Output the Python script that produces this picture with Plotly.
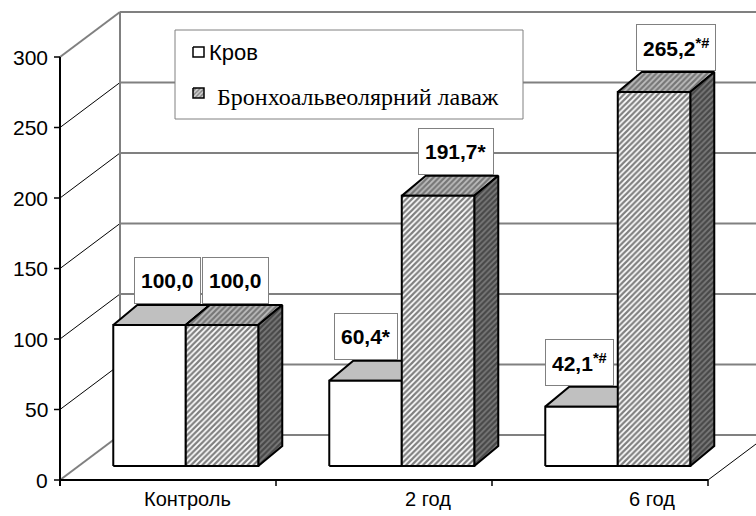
import plotly.graph_objects as go

# ---- data -------------------------------------------------------------
categories = ["Контроль", "2 год", "6 год"]
blood = [100.0, 60.4, 42.1]
lavage = [100.0, 191.7, 265.2]
blood_labels = ["100,0", "60,4*", "42,1<sup>*#</sup>"]
lavage_labels = ["100,0", "191,7*", "265,2<sup>*#</sup>"]
series_names = ["Кров", "Бронхоальвеолярний лаваж"]
value_ticks = [0, 50, 100, 150, 200, 250, 300]

# ---- geometry (pixels -> axis units) ---------------------------------
W, H = 756, 516
X0_PX, Y0_PX = 60, 480          # where the value axis meets the category axis
CAT_PX, VAL_PX = 216, 1.41      # pixels per category, pixels per value unit
N_CAT = len(categories)
VMAX = value_ticks[-1]

def ux(px):   # horizontal pixel length -> x units
    return px / CAT_PX

def uy(px):   # vertical pixel length -> value units
    return px / VAL_PX

def X(px):    # absolute pixel x -> x coordinate
    return (px - X0_PX) / CAT_PX

def Y(py):    # absolute pixel y -> y coordinate
    return (Y0_PX - py) / VAL_PX

WALL_DX, WALL_DY = ux(60), uy(45)        # depth of the chart box
BAR_F0 = 14 / 45                          # depth fraction of the bar fronts
BAR_DX, BAR_DY = ux(24), uy(20)           # bar depth
GAP, BW = ux(34.6), ux(72.5)              # gap before group, bar width
LABEL_NUDGE = [[6, -11.5, -14], [1.5, 5.5, 9.5]]  # px tweaks for value boxes

GRID = "#808080"
SANS = "Liberation Sans, Arial"
fig = go.Figure()


def line(xs, ys, color, width):
    fig.add_trace(go.Scatter(x=xs, y=ys, mode="lines",
                             line=dict(color=color, width=width),
                             hoverinfo="skip"))


def face(xs, ys, fill=None, pattern=None, lw=2, lc="black"):
    kw = dict(fillpattern=pattern) if pattern else {}
    fig.add_trace(go.Scatter(x=xs + [xs[0]], y=ys + [ys[0]], mode="lines",
                             fill="toself", fillcolor=fill or "white",
                             line=dict(color=lc, width=lw),
                             hoverinfo="skip", **kw))


# ---- walls ------------------------------------------------------------
x_right = X(W + 20)
for v in value_ticks:
    line([WALL_DX, x_right], [v + WALL_DY, v + WALL_DY], GRID, 2)
for v in value_ticks:
    edge = v in (0, VMAX)
    line([0, WALL_DX], [v, v + WALL_DY], GRID if edge else "black", 2 if edge else 1)
line([WALL_DX, WALL_DX], [WALL_DY, VMAX + WALL_DY], GRID, 2)
line([N_CAT, N_CAT + WALL_DX], [0, WALL_DY], "black", 1)

# ---- axes -------------------------------------------------------------
line([0, 0], [-uy(6), VMAX], "black", 2)
line([0, N_CAT], [0, 0], "black", 2)
for v in value_ticks:
    line([-ux(6), 0], [v, v], "black", 1.5)
for i in range(N_CAT + 1):
    line([i, i], [0, -uy(6)], "black", 1.5)

# ---- 3-D bars ---------------------------------------------------------
front_pat = dict(shape="/", bgcolor="white", fgcolor="black", size=4, solidity=0.55)
top_pat = dict(shape="/", bgcolor="#bdbdbd", fgcolor="#303030", size=4, solidity=0.55)
side_pat = dict(shape="/", bgcolor="#7a7a7a", fgcolor="#151515", size=4, solidity=0.55)

base = BAR_F0 * WALL_DY
for i in range(N_CAT):
    for k, (vals, labels) in enumerate([(blood, blood_labels), (lavage, lavage_labels)]):
        v = vals[i]
        x0 = i + GAP + k * BW + BAR_F0 * WALL_DX
        x1 = x0 + BW
        y0, y1 = base, base + v
        hatched = k == 1
        # top face
        face([x0, x1, x1 + BAR_DX, x0 + BAR_DX], [y1, y1, y1 + BAR_DY, y1 + BAR_DY],
             fill="#c0c0c0", pattern=top_pat if hatched else None)
        # right side face
        face([x1, x1 + BAR_DX, x1 + BAR_DX, x1], [y0, y0 + BAR_DY, y1 + BAR_DY, y1],
             fill="#808080", pattern=side_pat if hatched else None)
        # front face
        face([x0, x1, x1, x0], [y0, y0, y1, y1],
             fill="white", pattern=front_pat if hatched else None)
        # value box
        fig.add_annotation(
            x=(x0 + x1) / 2 + ux(12 + LABEL_NUDGE[k][i]), y=y1 + BAR_DY,
            yanchor="bottom", xanchor="center", yshift=1,
            text="<b>" + labels[i] + "</b>", showarrow=False,
            font=dict(family=SANS, size=21, color="black"),
            bgcolor="white", bordercolor=GRID, borderwidth=1, borderpad=6,
            height=33)

# ---- legend -----------------------------------------------------------
face([X(175), X(523), X(523), X(175)], [Y(30), Y(30), Y(119), Y(119)],
     fill="white", lw=1, lc=GRID)
face([X(193), X(204), X(204), X(193)], [Y(47), Y(47), Y(57), Y(57)], fill="white", lw=1.5)
face([X(193), X(204), X(204), X(193)], [Y(88), Y(88), Y(98), Y(98)],
     fill="white", pattern=dict(shape="/", bgcolor="#d0d0d0", fgcolor="#303030",
                                size=3, solidity=0.45), lw=1.5)
fig.add_annotation(x=X(207), y=Y(52), xanchor="left", yanchor="middle",
                   text=series_names[0], showarrow=False,
                   font=dict(family=SANS, size=22, color="black"))
fig.add_annotation(x=X(215), y=Y(97), xanchor="left", yanchor="middle",
                   text=series_names[1], showarrow=False,
                   font=dict(family="Liberation Serif, Times New Roman", size=24,
                             color="black"))

# ---- tick labels ------------------------------------------------------
for v in value_ticks:
    fig.add_annotation(x=X(50), y=v, xanchor="right", yanchor="middle",
                       text=str(v), showarrow=False,
                       font=dict(family=SANS, size=21, color="black"))
cat_label_px = [187, 428, 652]
for name, px in zip(categories, cat_label_px):
    fig.add_annotation(x=X(px), y=Y(499), xanchor="center", yanchor="middle",
                       text=name, showarrow=False,
                       font=dict(family=SANS, size=20, color="black"))

fig.update_layout(
    width=W, height=H, margin=dict(l=0, r=0, t=0, b=0),
    paper_bgcolor="white", plot_bgcolor="white", showlegend=False,
    xaxis=dict(visible=False, range=[X(0), X(W)], fixedrange=True),
    yaxis=dict(visible=False, range=[Y(H), Y(0)], fixedrange=True),
)
fig.write_html("out.html")
